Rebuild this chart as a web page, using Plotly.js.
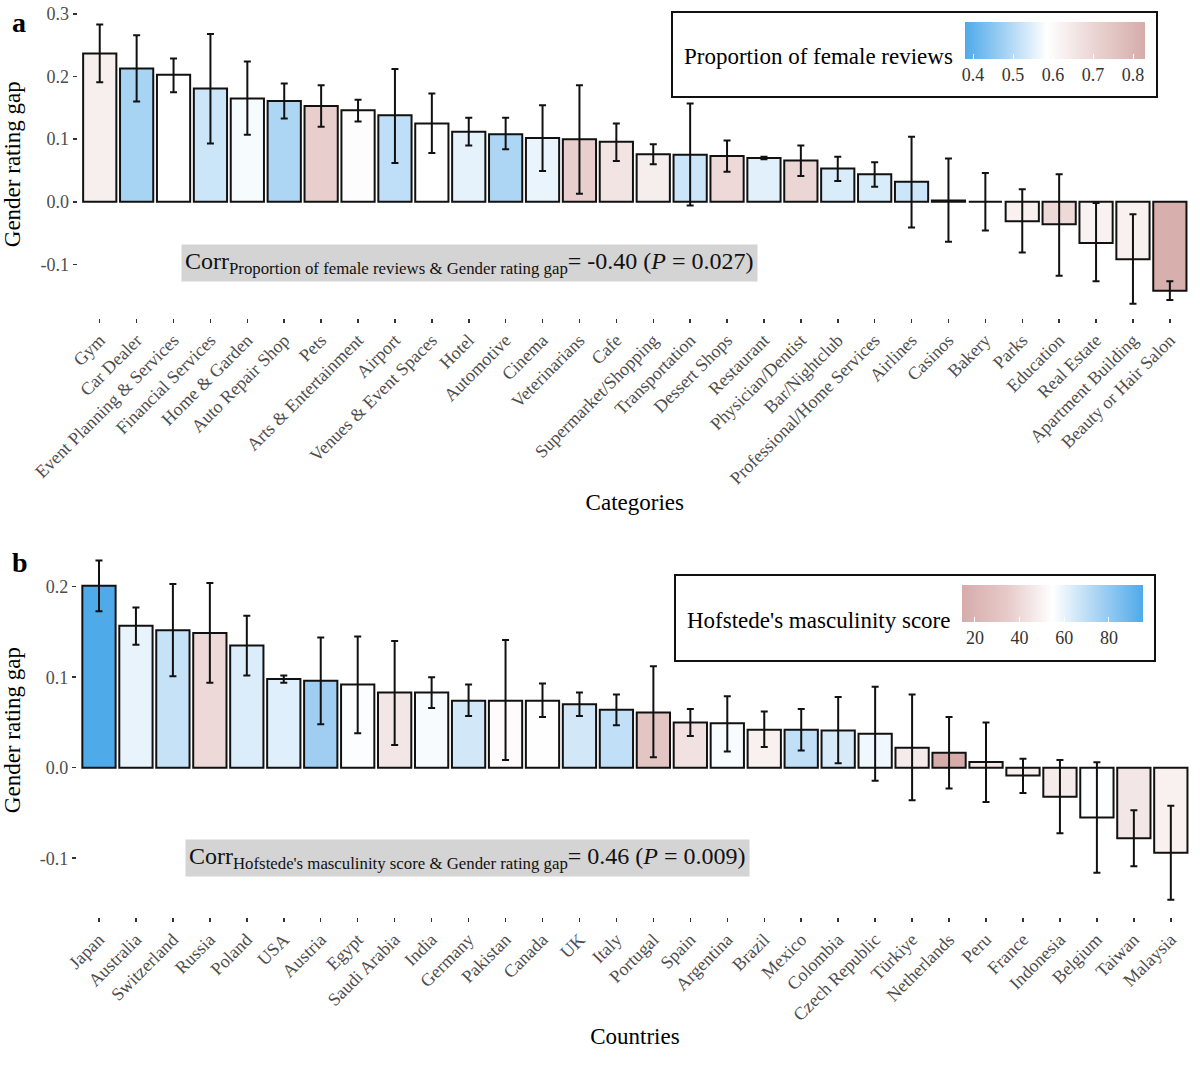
<!DOCTYPE html>
<html>
<head>
<meta charset="utf-8">
<script src="https://cdn.plot.ly/plotly-3.0.1.min.js"></script>
<style>
  html, body { margin:0; padding:0; background:#fff; }
  #chart { width:1200px; height:1065px; }
</style>
</head>
<body>
<div id="chart"></div>
<script>
// panel a : categories
const categories = ['Gym','Car Dealer','Event Planning & Services','Financial Services','Home & Garden',
  'Auto Repair Shop','Pets','Arts & Entertainment','Airport','Venues & Event Spaces','Hotel','Automotive',
  'Cinema','Veterinarians','Cafe','Supermarket/Shopping','Transportation','Dessert Shops','Restaurant',
  'Physician/Dentist','Bar/Nightclub','Professional/Home Services','Airlines','Casinos','Bakery','Parks',
  'Education','Real Estate','Apartment Building','Beauty or Hair Salon'];
const catGap   = [0.237,0.213,0.203,0.181,0.165,0.161,0.153,0.146,0.138,0.125,0.112,0.108,0.102,0.100,
  0.096,0.076,0.075,0.073,0.070,0.066,0.053,0.044,0.032,0.002,0.000,-0.031,-0.036,-0.066,-0.092,-0.142];
const catHigh  = [0.283,0.266,0.229,0.268,0.224,0.189,0.186,0.163,0.212,0.173,0.134,0.134,0.154,0.186,
  0.125,0.092,0.157,0.098,0.072,0.090,0.072,0.063,0.104,0.069,0.046,0.020,0.044,-0.002,-0.020,-0.127];
const catLow   = [0.191,0.160,0.175,0.093,0.107,0.133,0.120,0.128,0.062,0.078,0.090,0.084,0.049,0.013,
  0.065,0.060,-0.006,0.048,0.068,0.041,0.033,0.024,-0.041,-0.064,-0.046,-0.081,-0.118,-0.127,-0.163,-0.157];
const femaleShare = [0.63,0.485,0.585,0.525,0.575,0.49,0.72,0.59,0.51,0.585,0.555,0.49,0.56,0.72,
  0.66,0.635,0.525,0.69,0.55,0.70,0.54,0.54,0.525,0.58,0.60,0.625,0.69,0.62,0.625,0.82];

// panel b : countries
const countries = ['Japan','Australia','Switzerland','Russia','Poland','USA','Austria','Egypt','Saudi Arabia',
  'India','Germany','Pakistan','Canada','UK','Italy','Portugal','Spain','Argentina','Brazil','Mexico',
  'Colombia','Czech Republic','Türkiye','Netherlands','Peru','France','Indonesia','Belgium','Taiwan','Malaysia'];
const ctyGap  = [0.201,0.157,0.152,0.149,0.135,0.098,0.096,0.092,0.083,0.083,0.074,0.074,0.074,0.070,
  0.064,0.061,0.050,0.049,0.042,0.042,0.041,0.0375,0.022,0.0166,0.0063,-0.0085,-0.032,-0.055,-0.078,-0.094];
const ctyHigh = [0.229,0.177,0.203,0.204,0.168,0.102,0.144,0.145,0.140,0.100,0.092,0.141,0.093,0.083,
  0.081,0.112,0.065,0.079,0.062,0.065,0.078,0.0895,0.081,0.056,0.050,0.010,0.0085,0.006,-0.047,-0.042];
const ctyLow  = [0.173,0.136,0.101,0.094,0.102,0.094,0.048,0.038,0.025,0.066,0.057,0.0085,0.056,0.057,
  0.047,0.0115,0.035,0.018,0.023,0.019,0.005,-0.0144,-0.036,-0.023,-0.038,-0.028,-0.0725,-0.116,-0.109,-0.146];
const masculinity = [95,60,68,40,63,62,77,55.5,45,56.5,65,53,54,65,69,31,43,56,49,69,64,58,47,14,46,48,47,55,45,49];

const W = 1200, H = 1065;
const px = x => x / W;
const py = y => 1 - y / H;
const FONT = 'Liberation Serif, Times New Roman, serif';

const BLUE = '#4FAAEA', WHITE = '#FFFFFF', PINK = '#D5ACAA';

function scale(lo, mid, hi, reverse){
  const m = (mid - lo) / (hi - lo);
  const a = reverse ? PINK : BLUE, b = reverse ? BLUE : PINK;
  return [[0, a], [m * 0.5, reverse ? '#E6CAC9' : '#A6D3F4'], [m, WHITE], [m + (1 - m) * 0.5, reverse ? '#A9D3F3' : '#EAD3D2'], [1, b]];
}

function barTrace(x, y, hi, lo, c, cs, cmin, cmax, xa, ya, cb){
  return {
    type:'bar', x:x, y:y, xaxis:xa, yaxis:ya, width:0.9,
    marker:{color:c, colorscale:cs, cmin:cmin, cmax:cmax, showscale:true,
      line:{color:'#111', width:2}, colorbar:cb},
    error_y:{type:'data', symmetric:false,
      array:y.map((v,i)=>hi[i]-v), arrayminus:y.map((v,i)=>v-lo[i]),
      color:'#111', thickness:2, width:3.5},
    hoverinfo:'x+y'
  };
}

function cbar(cx, top, len, tickvals){
  return {orientation:'h', x:cx, xanchor:'center', y:top, yanchor:'top',
    len:len, lenmode:'pixels', thickness:37, thicknessmode:'pixels', xpad:0, ypad:0,
    outlinewidth:0, ticks:'inside', ticklen:5, tickcolor:'#fff', tickwidth:1,
    tickvals:tickvals, tickfont:{family:FONT, size:18, color:'#333'}};
}

const traces = [
  barTrace(categories, catGap, catHigh, catLow, femaleShare, scale(0.38,0.585,0.83,false), 0.38, 0.83, 'x', 'y',
    cbar(px(1055), py(22), 180, [0.4,0.5,0.6,0.7,0.8])),
  barTrace(countries, ctyGap, ctyHigh, ctyLow, masculinity, scale(14,54.5,95,true), 14, 95, 'x2', 'y2',
    cbar(px(1052), py(585), 181, [20,40,60,80]))
];

const tickfont = {family:FONT, size:18, color:'#4D4D4D'};
const axTitle = t => ({text:t, font:{family:FONT, size:23, color:'#000'}});

function xax(dom, n, title, anchor, standoff){
  return {domain:dom, range:[-0.6, n - 0.4], anchor:anchor, tickangle:-45, tickfont:tickfont,
    ticks:'outside', ticklen:4, tickwidth:1.5, tickcolor:'#333',
    showgrid:false, zeroline:false, showline:false, fixedrange:true,
    title:Object.assign(axTitle(title), {standoff:standoff})};
}
function yax(dom, range, vals, anchor){
  return {domain:dom, range:range, anchor:anchor, tickvals:vals,
    ticktext:vals.map(v => v.toFixed(1)), tickfont:tickfont,
    ticks:'outside', ticklen:4, tickwidth:1.5, tickcolor:'#333',
    showgrid:false, zeroline:false, showline:false, fixedrange:true,
    title:Object.assign(axTitle('Gender rating gap'), {standoff:15})};
}

const layout = {
  width:W, height:H, margin:{l:0, r:0, t:0, b:0},
  paper_bgcolor:'#fff', plot_bgcolor:'#fff', showlegend:false,
  font:{family:FONT},
  xaxis: xax([px(77.6), px(1192)], 30, 'Categories', 'y', 6),
  yaxis: yax([py(317.6), py(10.8)], [-0.185, 0.305], [-0.1,0,0.1,0.2,0.3], 'x'),
  xaxis2: xax([px(76.8), px(1193)], 30, 'Countries', 'y2', 4),
  yaxis2: yax([py(917), py(543.3)], [-0.165, 0.248], [-0.1,0,0.1,0.2], 'x2'),
  shapes:[
    {type:'rect', xref:'paper', yref:'paper', x0:px(672), x1:px(1157), y0:py(97), y1:py(12),
      line:{color:'#111', width:2}, fillcolor:'rgba(255,255,255,0)', layer:'below'},
    {type:'rect', xref:'paper', yref:'paper', x0:px(675), x1:px(1155), y0:py(661), y1:py(575),
      line:{color:'#111', width:2}, fillcolor:'rgba(255,255,255,0)', layer:'below'}
  ],
  annotations:[
    {xref:'paper', yref:'paper', x:px(10), y:py(22), xanchor:'left', yanchor:'middle', showarrow:false,
      text:'<b>a</b>', font:{family:FONT, size:28, color:'#000'}},
    {xref:'paper', yref:'paper', x:px(10), y:py(562), xanchor:'left', yanchor:'middle', showarrow:false,
      text:'<b>b</b>', font:{family:FONT, size:28, color:'#000'}},
    {xref:'paper', yref:'paper', x:px(682), y:py(56), xanchor:'left', yanchor:'middle', showarrow:false,
      text:'Proportion of female reviews', font:{family:FONT, size:23, color:'#000'}},
    {xref:'paper', yref:'paper', x:px(685), y:py(620), xanchor:'left', yanchor:'middle', showarrow:false,
      text:"Hofstede's masculinity score", font:{family:FONT, size:23, color:'#000'}},
    {xref:'paper', yref:'paper', x:px(469), y:py(263), xanchor:'center', yanchor:'middle', showarrow:false,
      text:'Corr<sub>Proportion of female reviews &amp; Gender rating gap</sub>= -0.40 (<i>P</i> = 0.027)',
      font:{family:FONT, size:24, color:'#111'}, bgcolor:'#D4D4D4', borderpad:3},
    {xref:'paper', yref:'paper', x:px(467), y:py(858), xanchor:'center', yanchor:'middle', showarrow:false,
      text:"Corr<sub>Hofstede's masculinity score &amp; Gender rating gap</sub>= 0.46 (<i>P</i> = 0.009)",
      font:{family:FONT, size:24, color:'#111'}, bgcolor:'#D4D4D4', borderpad:3}
  ]
};

Plotly.newPlot('chart', traces, layout, {displayModeBar:false, staticPlot:true});
</script>
</body>
</html>
